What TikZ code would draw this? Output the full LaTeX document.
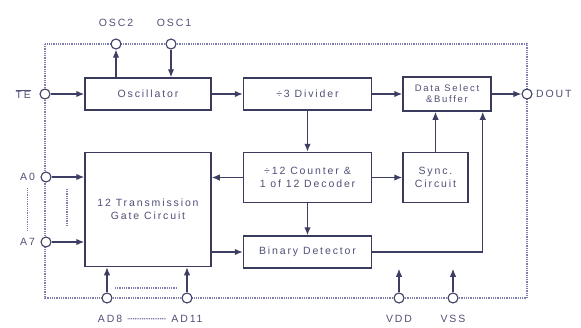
\documentclass[tikz,border=0pt]{standalone}
\usepackage{fontspec}
\setmainfont{Liberation Sans}[LetterSpace=18]
\usepackage{tikz}
\usetikzlibrary{positioning,arrows.meta}

\definecolor{boxline}{RGB}{58,58,92}
\definecolor{wirecol}{RGB}{62,62,100}
\definecolor{dotline}{RGB}{125,125,175}
\definecolor{labeltext}{RGB}{80,80,120}

\begin{document}
\begin{tikzpicture}[
    x=1pt, y=-1pt,
    font=\fontsize{10.5}{13}\selectfont,
    block/.style={draw=boxline, line width=1.5pt, fill=white, align=center,
      text=labeltext, inner sep=2pt},
    pin/.style={circle, draw=wirecol, line width=1.1pt, fill=white,
      minimum size=10pt, inner sep=0pt},
    pinlabel/.style={text=labeltext},
    wire/.style={-{Latex[length=8pt,width=6.5pt]}, line width=1.3pt, draw=wirecol},
    border/.style={dash pattern=on 1pt off 0.8pt, line width=1.2pt, dotline}
  ]
    \useasboundingbox (0,0) rectangle (581,327);
    % package outline
    \draw[border] (45,44) rectangle (527,298);

    % blocks
    \node[block, minimum width=126pt, minimum height=32pt] (osc) at (148,94) {Oscillator};
    \node[block, minimum width=128pt, minimum height=32pt, right=31pt of osc] (div) {÷3 Divider};
    \node[block, minimum width=88pt, minimum height=34pt, right=30pt of div,
      font=\fontsize{9.5}{11}\selectfont] (dsel) {Data Select\\\&Buffer};
    \node[block, minimum width=128pt, minimum height=50pt, below=41pt of div] (cnt)
      {÷12 Counter \&\\1 of 12 Decoder};
    \node[block, minimum width=65pt, minimum height=50pt, right=30pt of cnt] (sync) {Sync.\\Circuit};
    \node[block, minimum width=126pt, minimum height=114pt, below=41pt of osc] (tgc)
      {12 Transmission\\Gate Circuit};
    \node[block, minimum width=128pt, minimum height=32pt, below=32pt of cnt] (bin) {Binary Detector};

    % pins
    \node[pin] (osc2) at (116,44) {};
    \node[pin] (osc1) at (171,44) {};
    \node[pin] (te) at (45,94) {};
    \node[pin] (a0) at (46,177) {};
    \node[pin] (a7) at (46,242) {};
    \node[pin] (ad8) at (107,298) {};
    \node[pin] (ad11) at (187,298) {};
    \node[pin] (vdd) at (399,298) {};
    \node[pin] (vss) at (453,298) {};
    \node[pin] (dout) at (527,94) {};

    \node[pinlabel, above=8pt of osc2] {OSC2};
    \node[pinlabel, above=8pt of osc1, xshift=3pt] {OSC1};
    \node[pinlabel, left=5pt of te] {$\overline{\mbox{TE}}$};
    \node[pinlabel, left=2pt of a0] (a0lbl) {A0};
    \node[pinlabel, left=2pt of a7] (a7lbl) {A7};
    \node[pinlabel, right=0pt of dout] {DOUT};
    \node[pinlabel, below=8pt of ad8, xshift=3pt] (ad8lbl) {AD8};
    \node[pinlabel, below=8pt of ad11] (ad11lbl) {AD11};
    \node[pinlabel, below=8pt of vdd] {VDD};
    \node[pinlabel, below=8pt of vss] {VSS};

    % signal flow
    \draw[wire] (osc2 |- osc.north) -- (osc2);
    \draw[wire] (osc1) -- (osc1 |- osc.north);
    \draw[wire] (te) -- (osc.west);
    \draw[wire] (osc) -- (div);
    \draw[wire] (div) -- (dsel);
    \draw[wire] (dsel) -- (dout);
    \draw[wire] (div) -- (cnt);
    \draw[wire] (cnt) -- (bin);
    \draw[wire] (cnt.west) -- (cnt.west -| tgc.east);
    \draw[wire] (bin.west -| tgc.east) -- (bin.west);
    \draw[wire] (cnt) -- (sync);
    \draw[wire] (sync.north) -- (sync.north |- dsel.south);
    \draw[wire] (bin.east) -| ([xshift=-9pt]dsel.south east);
    \draw[wire] (a0) -- (a0 -| tgc.west);
    \draw[wire] (a7) -- (a7 -| tgc.west);
    \draw[wire] (ad8) -- (ad8 |- tgc.south);
    \draw[wire] (ad11) -- (ad11 |- tgc.south);
    \draw[wire] (vdd) -- (vdd |- bin.south);
    \draw[wire] (vss) -- (vss |- bin.south);

    % ellipsis dots
    \draw[border, shorten <=4pt, shorten >=4pt] (a0lbl.south) -- (a7lbl.north);
    \draw[border] (67,189) -- (67,226);
    \draw[border] (115,288) -- (178,288);
    \draw[border, shorten <=2pt, shorten >=2pt] (ad8lbl.east) -- (ad11lbl.west);
\end{tikzpicture}
\end{document}
